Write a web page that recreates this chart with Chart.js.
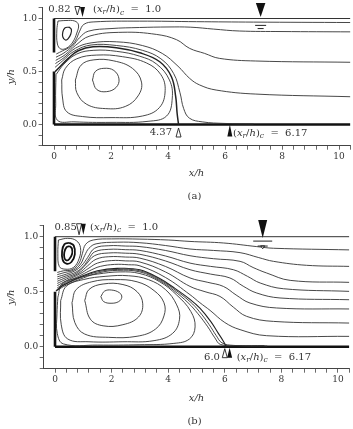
<!DOCTYPE html>
<html>
<head>
<meta charset="utf-8">
<script src="https://cdn.jsdelivr.net/npm/chart.js@4.4.1/dist/chart.umd.min.js"></script>
<style>
  html, body { margin: 0; padding: 0; background: #fff; }
  canvas { position: absolute; left: 0; }
  #chartA { top: 0; }
  #chartB { top: 200px; }
</style>
</head>
<body>
<canvas id="chartA" width="353" height="200"></canvas>
<canvas id="chartB" width="353" height="229"></canvas>
<script>
const FONT = '"DejaVu Serif", "Liberation Serif", serif';

// axis ticks
const xTickLabels = ['0', '2', '4', '6', '8', '10'];
const yTickLabels = ['0.0', '0.5', '1.0'];
const xMinorStep = 0.4;
const yMinorStep = 0.1;

// ---- panel (a) ----
const aSurface = [[0, 1.0], [10.4, 1.0]];
const aBed = [[0, 0], [10.4, 0]];
const aStep = [[0, 0], [0, 0.5]];
const aGate = [[0, 0.68], [0, 1.0]];

const aFlow1 = [[0.08,0.665],[0.3,0.695],[0.55,0.73],[0.75,0.79],[0.9,0.88],[1.05,0.945],[1.4,0.968],[3,0.975],[5,0.97],[7,0.966],[10.4,0.962]];
const aFlow2 = [[0.07,0.635],[0.35,0.675],[0.65,0.74],[0.9,0.82],[1.2,0.88],[2.0,0.905],[3.0,0.915],[4.0,0.92],[4.8,0.918],[5.6,0.9],[6.5,0.882],[8,0.877],[10.4,0.874]];
const aFlow3 = [[0.06,0.605],[0.4,0.66],[0.75,0.745],[1.26,0.835],[2.42,0.87],[3.59,0.85],[4.3,0.8],[4.76,0.718],[5.28,0.671],[5.8,0.624],[7.08,0.599],[10.4,0.587]];
const aFlow4 = [[0.05,0.575],[0.35,0.63],[0.75,0.72],[1.3,0.77],[2.2,0.78],[3.1,0.745],[3.8,0.67],[4.35,0.55],[4.76,0.435],[5.11,0.373],[5.69,0.325],[7.08,0.287],[10.4,0.262]];
const aFlow5 = [[0.04,0.54],[0.3,0.6],[0.7,0.69],[1.3,0.75],[2.2,0.745],[3.1,0.7],[3.75,0.62],[4.2,0.48],[4.42,0.3],[4.55,0.15],[4.75,0.06],[5.2,0.025],[6.0,0.01],[7.0,0.005]];
const aSep = [[0.035,0.498],[0.21,0.545],[0.5,0.624],[0.85,0.696],[1.37,0.734],[2.19,0.725],[3.01,0.677],[3.71,0.592],[4.12,0.451],[4.27,0.262],[4.32,0.106],[4.37,0]];

const aVortex1 = [[1.35,0.42],[1.45,0.5],[1.75,0.53],[2.1,0.51],[2.28,0.43],[2.18,0.35],[1.85,0.31],[1.5,0.33],[1.35,0.42]];
const aVortex2 = [[0.75,0.42],[0.8,0.3],[1.15,0.19],[1.8,0.15],[2.5,0.17],[2.95,0.27],[3.07,0.4],[2.75,0.53],[2.1,0.6],[1.4,0.61],[0.95,0.56],[0.75,0.42]];
const aVortex3 = [[0.27,0.42],[0.3,0.25],[0.45,0.12],[1.0,0.075],[2.0,0.065],[3.1,0.08],[3.7,0.16],[3.9,0.32],[3.75,0.47],[3.25,0.58],[2.4,0.64],[1.5,0.655],[0.8,0.62],[0.4,0.53],[0.27,0.42]];
const aVortex4 = [[0.07,0.47],[0.06,0.2],[0.12,0.04],[0.7,0.025],[2.0,0.02],[3.3,0.03],[3.95,0.08],[4.15,0.25],[4.05,0.42],[3.6,0.57],[3.0,0.645],[2.2,0.69],[1.4,0.7],[0.8,0.665],[0.35,0.57],[0.07,0.47]];
const aEddyOuter = [[0.14,0.976],[0.42,0.981],[0.73,0.976],[0.86,0.939],[0.8,0.863],[0.66,0.778],[0.45,0.722],[0.24,0.712],[0.12,0.759],[0.1,0.892],[0.14,0.976]];
const aEddyInner = [[0.52,0.92],[0.61,0.896],[0.59,0.854],[0.49,0.807],[0.4,0.797],[0.31,0.825],[0.31,0.873],[0.38,0.91],[0.52,0.92]];

// ---- panel (b) ----
const bSurface = [[0, 1.0], [10.4, 1.0]];
const bBed = [[0, 0], [10.4, 0]];
const bStep = [[0, 0], [0, 0.5]];
const bGate = [[0, 0.685], [0, 1.0]];

const bFlow1 = [[0.08,0.675],[0.3,0.69],[0.6,0.7],[0.85,0.76],[0.97,0.85],[1.08,0.93],[1.35,0.97],[2.0,0.98],[3.0,0.978],[4.0,0.97],[4.77,0.957],[5.95,0.943],[7.13,0.91],[7.72,0.895],[10.4,0.88]];
const bFlow2 = [[0.08,0.655],[0.35,0.675],[0.65,0.695],[0.9,0.75],[1.05,0.83],[1.2,0.895],[1.45,0.935],[2.2,0.95],[3.0,0.945],[3.9,0.92],[4.77,0.888],[5.6,0.875],[6.54,0.855],[7.2,0.81],[7.72,0.776],[8.89,0.74],[10.4,0.73]];
const bFlow3 = [[0.08,0.635],[0.4,0.66],[0.7,0.69],[0.95,0.74],[1.15,0.81],[1.4,0.895],[1.9,0.918],[2.5,0.915],[3.0,0.91],[3.9,0.875],[4.77,0.827],[5.6,0.8],[6.54,0.776],[7.0,0.72],[7.48,0.67],[8.31,0.603],[10.4,0.585]];
const bFlow4 = [[0.08,0.615],[0.4,0.645],[0.75,0.68],[1.0,0.73],[1.2,0.8],[1.4,0.862],[1.9,0.885],[2.5,0.882],[3.0,0.875],[3.9,0.825],[4.77,0.76],[5.5,0.73],[6.3,0.7],[6.8,0.64],[7.25,0.579],[8.07,0.527],[10.4,0.503]];
const bFlow5 = [[0.08,0.595],[0.4,0.63],[0.8,0.675],[1.1,0.75],[1.4,0.828],[1.9,0.852],[2.5,0.85],[3.0,0.84],[3.9,0.78],[4.77,0.7],[5.5,0.66],[6.18,0.625],[6.65,0.55],[7.13,0.488],[7.95,0.443],[10.4,0.427]];
const bFlow6 = [[0.08,0.575],[0.4,0.615],[0.85,0.67],[1.15,0.735],[1.45,0.795],[1.9,0.818],[2.5,0.815],[3.0,0.805],[3.9,0.73],[4.77,0.625],[5.4,0.585],[5.95,0.548],[6.4,0.47],[6.89,0.397],[7.83,0.352],[10.4,0.343]];
const bFlow7 = [[0.08,0.555],[0.4,0.6],[0.9,0.665],[1.2,0.715],[1.5,0.76],[2.0,0.783],[2.5,0.78],[3.0,0.77],[3.9,0.68],[4.77,0.548],[5.3,0.5],[5.83,0.457],[6.3,0.36],[6.77,0.276],[7.72,0.23],[10.4,0.215]];
const bFlow8 = [[0.08,0.535],[0.4,0.585],[0.95,0.655],[1.3,0.7],[1.6,0.73],[2.1,0.748],[2.6,0.745],[3.0,0.735],[3.9,0.63],[4.77,0.473],[5.12,0.4],[5.48,0.33],[6.0,0.22],[6.54,0.155],[7.48,0.1],[10.4,0.094]];
const bSep = [[0.03,0.505],[0.3,0.56],[0.9,0.635],[1.5,0.69],[2.2,0.712],[3.0,0.7],[3.7,0.62],[4.18,0.54],[4.77,0.43],[5.12,0.35],[5.5,0.23],[5.75,0.13],[5.95,0.05],[6.05,0]];
const bBundle1 = [[0.05,0.515],[0.35,0.565],[0.95,0.632],[1.5,0.68],[2.2,0.702],[3.0,0.69],[3.7,0.61],[4.2,0.525],[4.77,0.41],[5.1,0.32],[5.45,0.2],[5.7,0.1],[5.9,0.035],[6.3,0.012],[7.5,0.006]];
const bBundle2 = [[0.06,0.51],[0.4,0.56],[1.0,0.625],[1.55,0.672],[2.2,0.694],[3.0,0.68],[3.7,0.6],[4.2,0.51],[4.7,0.4],[5.05,0.3],[5.4,0.18],[5.65,0.08],[5.85,0.02],[6.5,0.01],[7.4,0.01]];

const bVortex1 = [[1.62,0.455],[1.75,0.505],[2.0,0.515],[2.28,0.49],[2.36,0.45],[2.25,0.41],[1.98,0.395],[1.72,0.41],[1.62,0.455]];
const bVortex2 = [[1.05,0.42],[1.2,0.52],[1.7,0.57],[2.4,0.565],[2.9,0.5],[3.1,0.39],[2.95,0.27],[2.4,0.2],[1.7,0.19],[1.25,0.25],[1.05,0.42]];
const bVortex3 = [[0.6,0.4],[0.75,0.52],[1.3,0.59],[2.1,0.61],[2.9,0.59],[3.5,0.51],[3.85,0.4],[3.85,0.28],[3.55,0.16],[2.9,0.095],[1.9,0.085],[1.05,0.115],[0.7,0.22],[0.6,0.4]];
const bVortex4 = [[0.2,0.42],[0.4,0.55],[1.0,0.61],[1.8,0.64],[2.6,0.645],[3.3,0.61],[3.9,0.52],[4.3,0.38],[4.4,0.25],[4.15,0.12],[3.5,0.055],[2.4,0.045],[1.2,0.045],[0.45,0.07],[0.22,0.2],[0.2,0.42]];
const bVortex5 = [[0.1,0.45],[0.25,0.57],[0.8,0.625],[1.5,0.66],[2.3,0.68],[3.0,0.665],[3.7,0.59],[4.3,0.47],[4.8,0.32],[4.95,0.18],[4.75,0.07],[4.2,0.03],[3.0,0.018],[1.5,0.015],[0.3,0.025],[0.08,0.12],[0.07,0.3],[0.1,0.45]];
const bEddyOuter = [[0.12,0.97],[0.45,0.985],[0.75,0.965],[0.9,0.9],[0.85,0.8],[0.65,0.72],[0.35,0.705],[0.15,0.73],[0.1,0.85],[0.12,0.97]];
const bEddyMid = [[0.5,0.945],[0.66,0.92],[0.7,0.84],[0.58,0.77],[0.4,0.755],[0.27,0.79],[0.25,0.87],[0.33,0.93],[0.5,0.945]];
const bEddyInner = [[0.52,0.915],[0.6,0.89],[0.6,0.84],[0.5,0.795],[0.4,0.785],[0.33,0.81],[0.33,0.86],[0.41,0.905],[0.52,0.915]];

// markers: reattachment / water level
const aMarks = {
  tris: [
    { x: 0.82, y: 1.033, w: 5, h: 8.5, down: true, fill: false },
    { x: 1.0, y: 1.014, w: 5, h: 10, down: true, fill: true },
    { x: 4.37, y: -0.033, w: 5, h: 9, down: false, fill: false },
    { x: 6.17, y: 0.0, w: 5, h: 12, down: false, fill: true },
    { x: 7.25, y: 1.014, w: 9.5, h: 14, down: true, fill: true }
  ],
  gauge: [ { x: 7.25, y: 0.935, w: 11 }, { x: 7.25, y: 0.905, w: 6 } ],
  texts: [ { t: '0.82', x: 0.58, y: 1.061, align: 'right' }, { t: '4.37', x: 4.14, y: -0.099, align: 'right' } ],
  crits: [ { v: '1.0', x: 1.37, y: 1.061 }, { v: '6.17', x: 6.28, y: -0.108 } ],
  caption: '(a)', captionY: 196.5
};
const bMarks = {
  tris: [
    { x: 0.85, y: 1.018, w: 5, h: 11, down: true, fill: false },
    { x: 1.0, y: 1.018, w: 5, h: 11, down: true, fill: true },
    { x: 6.0, y: -0.018, w: 5, h: 9, down: false, fill: false },
    { x: 6.17, y: -0.01, w: 5, h: 10, down: false, fill: true },
    { x: 7.34, y: 0.988, w: 9, h: 18, down: true, fill: true },
    { x: 7.34, y: 0.89, w: 4, h: 3, down: true, fill: false }
  ],
  gauge: [ { x: 7.34, y: 0.96, w: 19 }, { x: 7.34, y: 0.915, w: 10 } ],
  texts: [ { t: '0.85', x: 0.77, y: 1.064, align: 'right' }, { t: '6.0', x: 5.83, y: -0.118, align: 'right' } ],
  crits: [ { v: '1.0', x: 1.24, y: 1.064 }, { v: '6.17', x: 6.42, y: -0.118 } ],
  caption: '(b)', captionY: 221.7
};

function line(pts, w, color, tension) {
  return {
    data: pts.map(p => ({ x: p[0], y: p[1] })),
    showLine: true,
    pointRadius: 0,
    borderColor: color || '#333',
    borderWidth: w || 0.9,
    tension: tension === undefined ? 0.4 : tension,
    fill: false
  };
}

function drawCrit(ctx, x, y, v) {
  // (x_r/h)_c = v
  const parts = [
    ['(', '', 10, 0], ['x', 'italic ', 10, 0], ['r', 'italic ', 7.5, 2],
    ['/', '', 10, 0], ['h', 'italic ', 10, 0], [')', '', 10, 0],
    ['c', 'italic ', 7.5, 2.5], ['  =  ', '', 10, 0], [v, '', 10, 0]
  ];
  ctx.textAlign = 'left';
  let cx = x;
  parts.forEach(p => {
    ctx.font = p[1] + p[2] + 'px ' + FONT;
    ctx.fillText(p[0], cx, y + p[3]);
    cx += ctx.measureText(p[0]).width;
  });
}

function annotPlugin(m) {
  return {
    id: 'annot',
    afterDraw(chart) {
      const ctx = chart.ctx, xs = chart.scales.x, ys = chart.scales.y;
      ctx.save();
      ctx.strokeStyle = '#222';
      ctx.lineWidth = 0.9;
      m.tris.forEach(t => {
        const px = xs.getPixelForValue(t.x), py = ys.getPixelForValue(t.y);
        const base = t.down ? py - t.h : py + t.h;
        ctx.beginPath();
        ctx.moveTo(px, py);
        ctx.lineTo(px - t.w / 2, base);
        ctx.lineTo(px + t.w / 2, base);
        ctx.closePath();
        if (t.fill) { ctx.fillStyle = '#111'; ctx.fill(); }
        else { ctx.fillStyle = '#fff'; ctx.fill(); ctx.stroke(); }
      });
      ctx.lineWidth = 1;
      m.gauge.forEach(g => {
        const px = xs.getPixelForValue(g.x), py = ys.getPixelForValue(g.y);
        ctx.beginPath();
        ctx.moveTo(px - g.w / 2, py);
        ctx.lineTo(px + g.w / 2, py);
        ctx.stroke();
      });
      ctx.fillStyle = '#333';
      ctx.textBaseline = 'alphabetic';
      m.texts.forEach(t => {
        ctx.font = '10px ' + FONT;
        ctx.textAlign = t.align;
        ctx.fillText(t.t, xs.getPixelForValue(t.x), ys.getPixelForValue(t.y));
      });
      m.crits.forEach(c => drawCrit(ctx, xs.getPixelForValue(c.x), ys.getPixelForValue(c.y), c.v));
      ctx.font = '10px ' + FONT;
      ctx.textAlign = 'center';
      ctx.textBaseline = 'middle';
      ctx.fillText(m.caption, (chart.chartArea.left + chart.chartArea.right) / 2 - 2, m.captionY);
      ctx.restore();
    }
  };
}

function xTicks() {
  const v = [];
  for (let i = 0; i * xMinorStep <= 10.4 + 1e-9; i++) v.push(+(i * xMinorStep).toFixed(1));
  return v;
}
function yTicks() {
  const v = [];
  for (let i = -2; i <= 11; i++) v.push(+(i * yMinorStep).toFixed(1));
  return v;
}

function makePanel(id, datasets, geo, marks) {
  const ctx = document.getElementById(id).getContext('2d');
  return new Chart(ctx, {
    type: 'scatter',
    data: { datasets },
    options: {
      responsive: false,
      animation: false,
      events: [],
      layout: { autoPadding: false, padding: { top: geo.top, right: geo.right, left: 0, bottom: 0 } },
      plugins: { legend: { display: false }, tooltip: { enabled: false } },
      scales: {
        x: {
          type: 'linear', min: -0.4, max: 10.4,
          afterBuildTicks: s => { s.ticks = xTicks().map(v => ({ value: v })); },
          afterFit: s => { s.height = geo.xHeight; },
          ticks: {
            autoSkip: false, maxRotation: 0, padding: 2, color: '#333',
            font: { family: FONT, size: 9 },
            callback: v => { const s = String(+v.toFixed(1)); return xTickLabels.includes(s) ? s : ''; }
          },
          grid: { drawOnChartArea: false, drawTicks: true, tickLength: 4, color: '#444', lineWidth: 0.8 },
          border: { display: true, color: '#444', width: 1 },
          title: { display: true, text: 'x/h', color: '#333', font: { family: FONT, size: 10, style: 'italic' }, padding: { top: 0, bottom: geo.titlePad } }
        },
        y: {
          type: 'linear', min: -0.2, max: 1.1,
          afterBuildTicks: s => { s.ticks = yTicks().map(v => ({ value: v })); },
          afterFit: s => { s.width = geo.yWidth; },
          ticks: {
            autoSkip: false, padding: 1.5, color: '#333',
            font: { family: FONT, size: 9 },
            callback: v => { const s = v.toFixed(1); return yTickLabels.includes(s) ? s : ''; }
          },
          grid: { drawOnChartArea: false, drawTicks: true, tickLength: 4, color: '#444', lineWidth: 0.8 },
          border: { display: true, color: '#444', width: 1 },
          title: { display: true, text: 'y/h', color: '#333', font: { family: FONT, size: 10, style: 'italic' }, padding: { top: 5, bottom: 0 } }
        }
      }
    },
    plugins: [annotPlugin(marks)]
  });
}

const WALL = '#111';
makePanel('chartA', [
  line(aSurface, 1, '#333', 0),
  line(aFlow1), line(aFlow2), line(aFlow3), line(aFlow4), line(aFlow5),
  line(aSep, 1.5, '#222'),
  line(aVortex1), line(aVortex2), line(aVortex3), line(aVortex4),
  line(aEddyOuter), line(aEddyInner, 1.2, '#222'),
  line(aBed, 2.6, WALL, 0), line(aStep, 2.6, WALL, 0), line(aGate, 2.6, WALL, 0)
], { top: 7.9, right: 2.6, yWidth: 42.6, xHeight: 54.3, titlePad: 21 }, aMarks);

makePanel('chartB', [
  line(bSurface, 1, '#333', 0),
  line(bFlow1), line(bFlow2), line(bFlow3), line(bFlow4), line(bFlow5), line(bFlow6), line(bFlow7), line(bFlow8),
  line(bSep, 1.1, '#222'), line(bBundle1), line(bBundle2),
  line(bVortex1), line(bVortex2), line(bVortex3), line(bVortex4), line(bVortex5),
  line(bEddyOuter), line(bEddyMid, 1.8, '#111'), line(bEddyInner, 1.8, '#111'),
  line(bBed, 2.6, WALL, 0), line(bStep, 2.6, WALL, 0), line(bGate, 2.6, WALL, 0)
], { top: 25.7, right: 3.7, yWidth: 43.7, xHeight: 60.3, titlePad: 25 }, bMarks);
</script>
</body>
</html>
